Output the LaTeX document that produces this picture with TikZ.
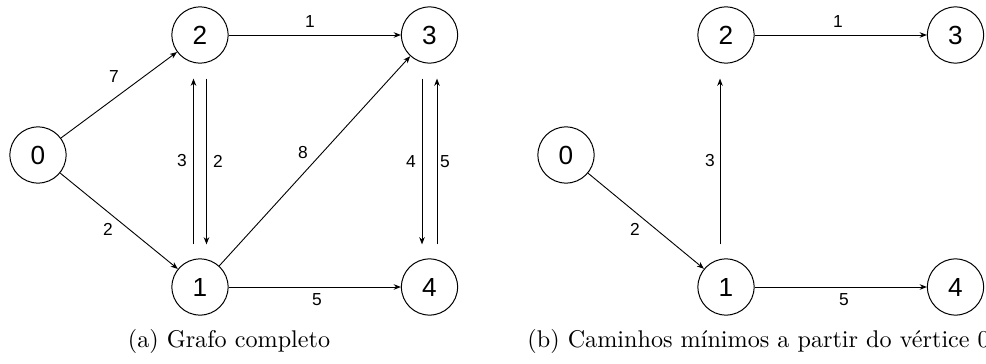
\documentclass[tikz,border=0pt]{standalone}
\usepackage{fontspec}
\newfontfamily\arialf{Liberation Sans}
\usetikzlibrary{arrows.meta,calc}
\begin{document}
\begin{tikzpicture}[x=0.42pt,y=-0.42pt,
  vert/.style={circle,draw,line width=0.42pt,minimum size=23.6pt,inner sep=0pt,font=\arialf\fontsize{11}{12}\selectfont},
  lab/.style={inner sep=0pt,font=\arialf\fontsize{7.3}{8}\selectfont},
  arr/.style={line width=0.38pt,-{Stealth[length=3pt,width=2.3pt,inset=0.9pt]}},
  capt/.style={inner sep=0pt,font=\fontsize{10.15}{12}\selectfont}]
\useasboundingbox (0,0) rectangle (986,363);
\clip (0,0) rectangle (986,363);
% ---------- (a) ----------
\node[vert] (a0) at (38,155) {0};
\node[vert] (a2) at (200,35) {2};
\node[vert] (a3) at (429.5,35) {3};
\node[vert] (a1) at (200,287) {1};
\node[vert] (a4) at (429.5,287) {4};
\draw[arr] (a0) -- (a2);
\draw[arr] (a0) -- (a1);
\draw[arr] (a2) -- (a3);
\draw[arr] (a1) -- (a4);
\draw[arr] (a1) -- (a3);
\draw[arr] ($(a1.north)+(-6.5,-14)$) -- ($(a2.south)+(-6.5,15)$);
\draw[arr] ($(a2.south)+(6.5,15)$) -- ($(a1.north)+(6.5,-14)$);
\draw[arr] ($(a3.south)+(-7.5,15)$) -- ($(a4.north)+(-7.5,-14)$);
\draw[arr] ($(a4.north)+(7.5,-14)$) -- ($(a3.south)+(7.5,15)$);
\node[lab] (l02) at (114,77) {7};
\node[lab] (l01) at (108,229) {2};
\node[lab] (l23) at (310,22) {1};
\node[lab] (l14) at (317,300) {5};
\node[lab] (l13) at (303,153) {8};
\node[lab] (l12) at (182,161) {3};
\node[lab] (l21) at (218,161) {2};
\node[lab] (l34) at (411,162) {4};
\node[lab] (l43) at (445,162) {5};
\node[capt,anchor=base] (capa) at (229,347) {(a) Grafo completo};
% ---------- (b) ----------
\begin{scope}[shift={(526,0)}]
\node[vert] (b0) at (40,155) {0};
\node[vert] (b2) at (200,35) {2};
\node[vert] (b3) at (429.5,35) {3};
\node[vert] (b1) at (200,287) {1};
\node[vert] (b4) at (429.5,287) {4};
\draw[arr] (b0) -- (b1);
\draw[arr] (b2) -- (b3);
\draw[arr] (b1) -- (b4);
\draw[arr] ($(b1.north)+(-6,-14)$) -- ($(b2.south)+(-6,15)$);
\node[lab] (m01) at (109,229) {2};
\node[lab] (m23) at (312,22) {1};
\node[lab] (m14) at (318,300) {5};
\node[lab] (m12) at (184,161) {3};
\end{scope}
\node[capt,anchor=base west] (capb) at (527,347) {(b) Caminhos mínimos a partir do vértice 0};
\end{tikzpicture}
\end{document}
